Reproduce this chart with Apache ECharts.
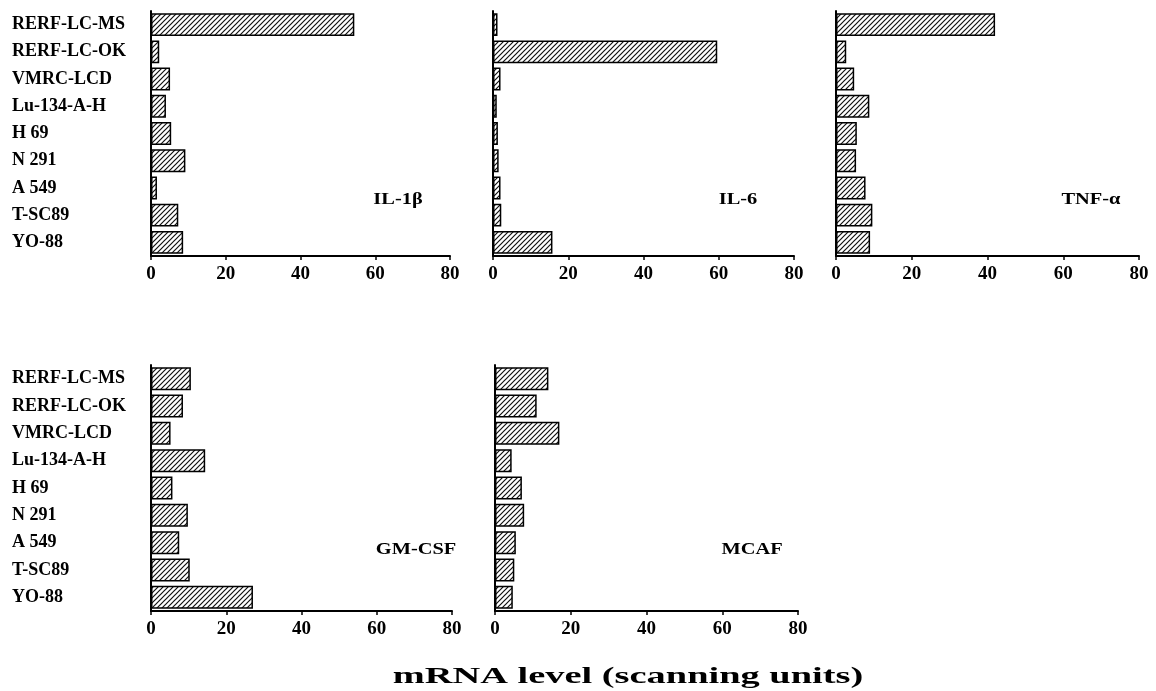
<!DOCTYPE html>
<html>
<head>
<meta charset="utf-8">
<script src="https://cdn.jsdelivr.net/npm/echarts@6/dist/echarts.min.js"></script>
<style>
html,body{margin:0;padding:0;background:#fff;}
#chart{width:1156px;height:691px;}
</style>
</head>
<body>
<div id="chart"></div>
<script>
const categories = ['RERF-LC-MS','RERF-LC-OK','VMRC-LCD','Lu-134-A-H','H 69','N 291','A 549','T-SC89','YO-88'];
const il1b  = [54.4, 2.2, 5.1, 4.0, 5.4, 9.2, 1.6, 7.3, 8.6];
const il6   = [1.2, 59.6, 2.0, 1.0, 1.3, 1.5, 2.0, 2.2, 15.8];
const tnfa  = [42.0, 2.7, 4.8, 8.8, 5.5, 5.3, 7.8, 9.6, 9.0];
const gmcsf = [10.6, 8.5, 5.2, 14.4, 5.7, 9.8, 7.5, 10.3, 27.1];
const mcaf  = [14.1, 11.0, 17.0, 4.4, 7.1, 7.7, 5.5, 5.1, 4.7];
const xTicks = [0, 20, 40, 60, 80];
const panelNames = ['IL-1\u03B2', 'IL-6', 'TNF-\u03B1', 'GM-CSF', 'MCAF'];
const axisTitle = 'mRNA level (scanning units)';

const FONT = '"Liberation Serif","Times New Roman",serif';

// hatch pattern
const pc = document.createElement('canvas');
pc.width = 5; pc.height = 5;
const g = pc.getContext('2d');
g.fillStyle = '#fff'; g.fillRect(0, 0, 5, 5);
g.strokeStyle = '#111'; g.lineWidth = 1.2;
g.beginPath();
g.moveTo(0, 5); g.lineTo(5, 0);
g.moveTo(-1, 1); g.lineTo(1, -1);
g.moveTo(4, 6); g.lineTo(6, 4);
g.stroke();
const hatch = { image: pc, repeat: 'repeat' };

const seriesData = [il1b, il6, tnfa, gmcsf, mcaf];
const grids = [
  { left: 151, top: 11, width: 299, height: 245 },
  { left: 493, top: 11, width: 301, height: 245 },
  { left: 836, top: 11, width: 303, height: 245 },
  { left: 151, top: 365, width: 301, height: 246 },
  { left: 495, top: 365, width: 303, height: 246 }
];
const showY = [true, false, false, true, false];
const labelPos = [
  [398, 200], [738, 200], [1091, 200], [416, 550], [752, 550]
];

const option = {
  animation: false,
  backgroundColor: '#fff',
  grid: grids.map(gr => Object.assign({ containLabel: false }, gr)),
  xAxis: grids.map((gr, i) => ({
    type: 'value', gridIndex: i, min: xTicks[0], max: xTicks[xTicks.length - 1], interval: 20,
    splitLine: { show: false },
    axisLine: { show: true, lineStyle: { color: '#000', width: 2 } },
    axisTick: { show: true, length: 4, lineStyle: { color: '#000', width: 1.5 } },
    axisLabel: { color: '#000', fontFamily: FONT, fontWeight: 'bold', fontSize: 19, margin: 9 }
  })),
  yAxis: grids.map((gr, i) => ({
    type: 'category', gridIndex: i, data: categories, inverse: true,
    axisLine: { show: true, lineStyle: { color: '#000', width: 2 } },
    axisTick: { show: false },
    axisLabel: { show: showY[i], color: '#000', fontFamily: FONT, fontWeight: 'bold', fontSize: 18,
      align: 'left', margin: 139 }
  })),
  series: seriesData.map((d, i) => ({
    type: 'bar', xAxisIndex: i, yAxisIndex: i, data: d,
    barCategoryGap: '16%',
    itemStyle: { color: hatch, borderColor: '#000', borderWidth: 1.5 }
  })),
  graphic: panelNames.map((n, i) => ({
    type: 'text', x: labelPos[i][0], y: labelPos[i][1], scaleX: 1.2,
    style: { text: n, fill: '#000', font: 'bold 17px ' + FONT, textAlign: 'center', textVerticalAlign: 'middle' }
  })).concat([{
    type: 'text', x: 628, y: 677, scaleX: 1.6,
    style: { text: axisTitle, fill: '#000', font: 'bold 24px ' + FONT, textAlign: 'center', textVerticalAlign: 'middle' }
  }])
};

const chart = echarts.init(document.getElementById('chart'));
chart.setOption(option);
</script>
</body>
</html>
